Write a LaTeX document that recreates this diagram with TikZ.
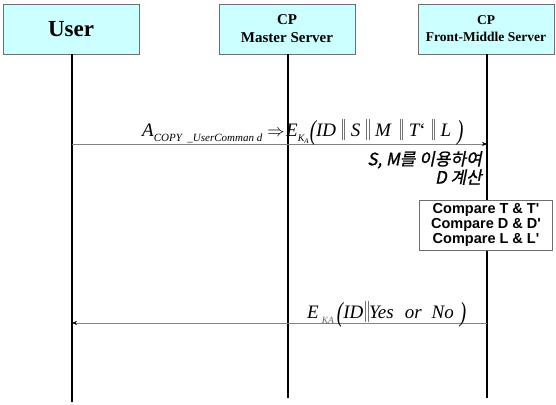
\documentclass[tikz,border=0pt]{standalone}
\usepackage{fontspec}
\usepackage{graphicx}
\setmainfont{Liberation Serif}
\newfontfamily\arialf{Liberation Sans}
\newfontfamily\kr[FakeSlant=0.2,FakeBold=1]{Noto Sans CJK KR}
\usetikzlibrary{arrows.meta}
\definecolor{headfill}{RGB}{204,255,255}
\definecolor{bordergray}{RGB}{110,110,110}
\definecolor{msggray}{RGB}{130,130,130}
\newcommand{\bars}{{\color{black!55}\rule[-0.22em]{0.6pt}{1.12em}\hspace{1.6pt}\rule[-0.22em]{0.6pt}{1.12em}}}
\newcommand{\dbl}{\hspace{6pt}\bars\hspace{6pt}}
\newcommand{\bigpar}[1]{\raisebox{-0.2em}{\scalebox{1}[1.45]{#1}}}
\newcommand{\sbx}[2]{\raisebox{-0.3em}{\fontsize{#1}{#1}\selectfont #2}}
\begin{document}
\begin{tikzpicture}[x=1pt,y=-1pt,
  head/.style={draw=bordergray,fill=headfill,line width=0.8pt,minimum width=136pt,minimum height=50pt,font=\bfseries,align=center,inner sep=0pt},
  life/.style={line width=2.6pt,black},
  msg/.style={draw=msggray,line width=0.6pt,-{Stealth[length=5pt,width=4pt,black]}},
  cmpbox/.style={draw=bordergray,fill=white,line width=0.8pt,minimum width=133pt,minimum height=50pt,align=center,inner sep=1pt,font=\arialf\bfseries\fontsize{14.5}{15}\selectfont}
]
\useasboundingbox (0,0) rectangle (556,404);
\node[head,font=\bfseries\fontsize{23}{26}\selectfont] (user) at (71,29) {User};
\node[head,font=\bfseries\fontsize{15}{18}\selectfont] (master) at (287,29) {CP\\Master Server};
\node[head,font=\bfseries\fontsize{13.5}{17}\selectfont] (front) at (486,29) {CP\\Front-Middle Server};
\coordinate (uend) at (72,402);
\coordinate (mend) at (288,398);
\coordinate (fend) at (487,398);
\draw[life] (user.south -| uend) -- (uend);
\draw[life] (master.south -| mend) -- (mend);
\draw[life] (front.south -| fend) -- (fend);
\coordinate (a1s) at (72,144);
\coordinate (a1e) at (487,144);
\draw[msg] (a1s) -- (a1e);
\node[anchor=base west,inner sep=0pt,font=\itshape\fontsize{19}{21}\selectfont] (lab1) at (142,136) {\makebox[144pt][l]{A\sbx{11}{COPY \ \_UserComman d}\hspace{5pt}\upshape$\Rightarrow$}E\sbx{10}{K\raisebox{-0.15em}{\fontsize{7}{7}\selectfont A}}\hspace{1pt}\bigpar{(}ID\dbl S\dbl M\hspace{3pt}\dbl T\upshape`\itshape\dbl L\hspace{6pt}\bigpar{)}};
\node[anchor=north east,align=right,inner sep=0pt,font=\kr\fontsize{17}{17}\selectfont] (calc) at (482,151) {S, M를 이용하여\\D 계산};
\node[cmpbox] (cmp) at (486,225) {Compare T \& T'\\Compare D \& D'\\Compare L \& L'};
\coordinate (a2s) at (487,323);
\coordinate (a2e) at (72,323);
\draw[msg] (a2s) -- (a2e);
\node[anchor=base west,inner sep=0pt,font=\itshape\fontsize{19}{21}\selectfont] (lab2) at (307,318) {E\hspace{3pt}\sbx{9.5}{\color{black!60}KA}\hspace{3pt}\bigpar{(}ID\hspace{2pt}\bars\hspace{1pt}Yes\hspace{11pt}or\hspace{10pt}No\hspace{6pt}\bigpar{)}};
\end{tikzpicture}
\end{document}
